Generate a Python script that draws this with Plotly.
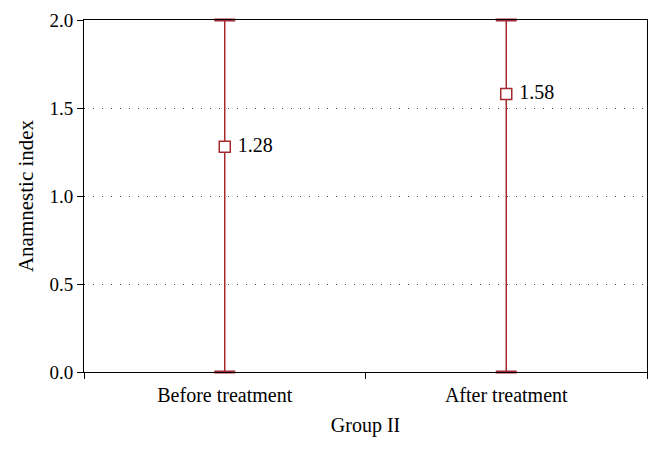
import plotly.graph_objects as go

categories = ["Before treatment", "After treatment"]
means = [1.28, 1.58]
upper = [2.0, 2.0]
lower = [0.0, 0.0]
labels = ["1.28", "1.58"]

red = "#A52A2F"
err_plus = [u - m for u, m in zip(upper, means)]
err_minus = [m - l for m, l in zip(means, lower)]
FONT = "Liberation Serif"

fig = go.Figure()
# whiskers
fig.add_trace(go.Scatter(
    x=categories, y=means, mode="none",
    error_y=dict(type="data", symmetric=False, array=err_plus, arrayminus=err_minus,
                 color=red, thickness=1.5, width=0),
    showlegend=False, hoverinfo="skip",
))
# caps
fig.add_trace(go.Scatter(
    x=categories + categories, y=upper + lower, mode="markers",
    marker=dict(symbol="line-ew", size=15, line=dict(width=3, color=red)),
    cliponaxis=False, showlegend=False, hoverinfo="skip",
))
# means
fig.add_trace(go.Scatter(
    x=categories, y=means,
    mode="markers+text",
    text=[" " + t for t in labels],
    textposition="middle right",
    textfont=dict(family=FONT, size=20, color="black"),
    marker=dict(symbol="square", size=11, color="white", line=dict(width=1.5, color=red)),
    cliponaxis=False,
    showlegend=False,
))

fig.update_layout(
    width=646, height=434,
    margin=dict(l=76, r=7, t=12, b=70),
    paper_bgcolor="white", plot_bgcolor="white",
    font=dict(family=FONT, size=20, color="black"),
    xaxis=dict(
        type="category", range=[-0.5, 1.5],
        showline=True, linecolor="black", linewidth=1, mirror=True,
        ticks="outside", ticklen=6, tickcolor="black", tickson="boundaries",
        showgrid=False, automargin=False,
        tickfont=dict(size=20), ticklabelstandoff=5,
        title=dict(text="Group II", standoff=12, font=dict(size=20)),
    ),
    yaxis=dict(
        range=[0, 2], dtick=0.5, tickformat=".1f",
        showline=True, linecolor="black", linewidth=1, mirror=True,
        ticks="outside", ticklen=6, tickcolor="black",
        showgrid=True, gridcolor="#444444", griddash="1px,8px", gridwidth=1,
        zeroline=False, automargin=False,
        tickfont=dict(size=19),
        title=dict(text="Anamnestic index", standoff=10, font=dict(size=21)),
    ),
)

fig.write_html("out.html")
